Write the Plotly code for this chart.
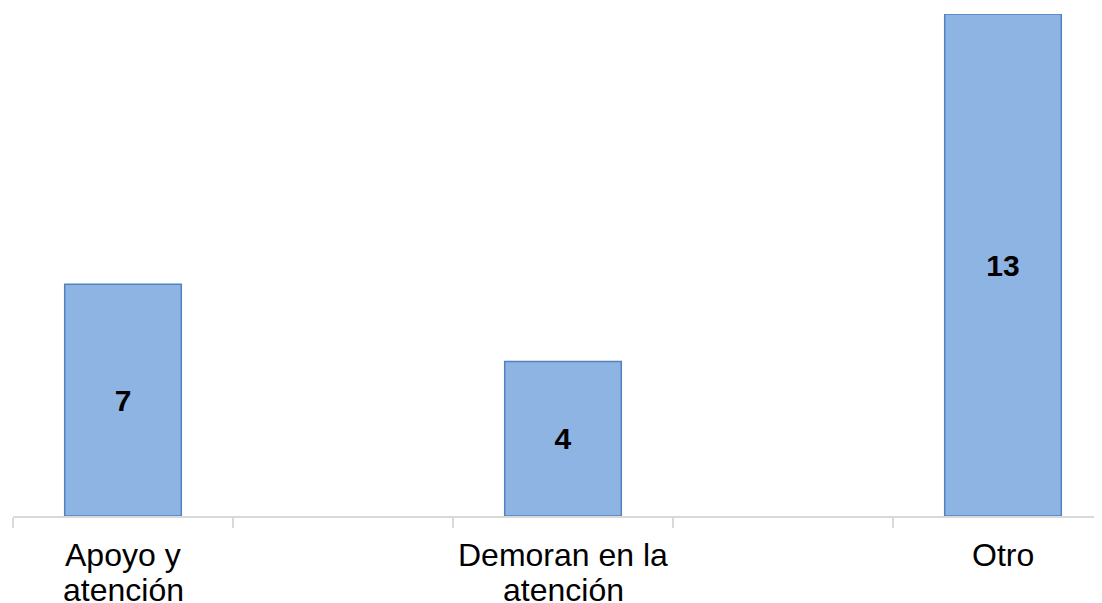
import plotly.graph_objects as go

# categories (blank slots keep the original spacing between bars)
categories = ["Apoyo y atención", " ", "Demoran en la atención", "  ", "Otro"]
category_lines = [["Apoyo y", "atención"], [], ["Demoran en la", "atención"], [], ["Otro"]]
bar_categories = ["Apoyo y atención", "Demoran en la atención", "Otro"]
bar_heights = [6, 4, 13]
bar_labels = ["7", "4", "13"]

FONT = "Liberation Sans, Arial"

fig = go.Figure()
fig.add_trace(go.Bar(
    x=bar_categories,
    y=bar_heights,
    text=bar_labels,
    textposition="inside",
    insidetextanchor="middle",
    textangle=0,
    textfont=dict(family=FONT, size=30, color="black", weight="bold"),
    marker=dict(color="#8EB4E3", line=dict(color="#5281C0", width=1.5)),
    width=0.53,
))

# category labels, one annotation per line for tight line spacing
for cat, lines in zip(categories, category_lines):
    for i, line in enumerate(lines):
        fig.add_annotation(
            x=cat, y=0, xref="x", yref="y",
            text=line, showarrow=False,
            xanchor="center", yanchor="top",
            yshift=-19 - 35 * i,
            font=dict(family=FONT, size=32, color="black"),
        )

# the page body adds an 8px offset, margins account for it
fig.update_layout(
    width=1102,
    height=603,
    margin=dict(l=5, r=8, t=6, b=95),
    plot_bgcolor="white",
    paper_bgcolor="white",
    showlegend=False,
    font=dict(family=FONT, size=32, color="black"),
    xaxis=dict(
        type="category",
        categoryorder="array",
        categoryarray=categories,
        range=[-0.5, 4.45],
        tickson="boundaries",
        ticks="outside",
        ticklen=10,
        tickcolor="#d9d9d9",
        tickwidth=1.5,
        showticklabels=False,
        showline=True,
        linecolor="#d9d9d9",
        linewidth=2,
        showgrid=False,
        automargin=False,
    ),
    yaxis=dict(
        range=[0, 13],
        visible=False,
        showgrid=False,
        zeroline=False,
        automargin=False,
    ),
)

fig.write_html("out.html")
